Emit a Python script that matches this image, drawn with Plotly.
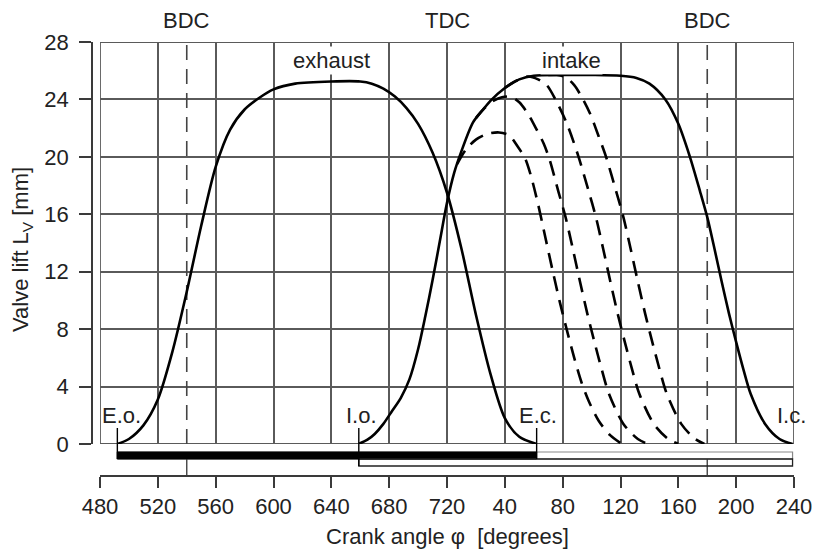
import plotly.graph_objects as go

# ---- data (crank angle in degrees, 720 + x for the second revolution) ----
exhaust_deg = [492, 500, 510, 520, 530, 540, 550, 560, 570, 580, 590, 600, 615, 640, 660,
               668, 676, 684, 692, 700, 710, 720, 730, 740, 750, 760, 770, 782]
exhaust_lift = [0, 0.35, 1.3, 3.1, 6.4, 10.6, 15.2, 19.3, 21.9, 23.3, 24.1, 24.7, 25.1, 25.25, 25.25,
                25.1, 24.75, 24.2, 23.4, 22.3, 20.3, 17.5, 13.6, 9.0, 4.9, 1.8, 0.5, 0]

intake_deg = [659, 665, 670, 676, 682, 688, 694, 700, 705, 710, 715, 720, 725, 730, 738, 745, 750,
              760, 770, 780, 800, 820, 840, 851, 860, 871, 880, 888, 895, 900, 905, 910, 915,
              920, 925, 930, 940, 950, 959]
intake_lift = [0, 0.3, 0.7, 1.4, 2.3, 3.2, 4.5, 6.6, 8.9, 11.4, 14.1, 16.8, 18.9, 20.4, 22.4, 23.3, 23.9,
               24.8, 25.4, 25.65, 25.7, 25.7, 25.65, 25.5, 25.1, 24.0, 22.3, 20.0, 17.6, 15.8, 13.6, 11.3, 9.1,
               7.1, 5.2, 3.5, 1.4, 0.35, 0]

# early intake closing variants (dashed)
var1_deg = [727, 733, 740, 748, 756, 763, 769, 774, 778, 783, 788, 793, 798, 803, 808, 813, 818, 825, 833, 841]
var1_lift = [19.5, 20.5, 21.2, 21.6, 21.7, 21.5, 20.7, 19.9, 18.7, 16.7, 14.4, 12.1, 9.9, 7.9, 6.0, 4.3, 3.0, 1.6, 0.6, 0]

var2_deg = [740, 746, 752, 758, 764, 770, 776, 782, 787, 791, 797, 802, 807, 812, 817, 822, 827, 832, 842, 852, 859]
var2_lift = [22.7, 23.4, 23.9, 24.15, 24.2, 23.8, 23.0, 21.9, 20.9, 19.8, 17.6, 15.8, 13.6, 11.3, 9.1, 7.1, 5.2, 3.5, 1.4, 0.35, 0]

var3_deg = [760, 768, 776, 783, 789, 795, 803, 811, 818, 823, 828, 833, 838, 843, 848, 853, 863, 873, 880]
var3_lift = [24.8, 25.3, 25.6, 25.4, 25.0, 24.0, 22.3, 20.0, 17.6, 15.8, 13.6, 11.3, 9.1, 7.1, 5.2, 3.5, 1.4, 0.35, 0]

var4_deg = [790, 796, 802, 808, 813, 819, 825, 830, 837, 842, 847, 852, 857, 862, 867, 872, 882, 891, 898]
var4_lift = [25.7, 25.7, 25.55, 25.0, 24.2, 23.0, 21.4, 20.0, 17.6, 15.8, 13.6, 11.3, 9.1, 7.1, 5.2, 3.5, 1.4, 0.4, 0]

x_ticks = [480, 520, 560, 600, 640, 680, 720, 760, 800, 840, 880, 920, 960]
x_tick_labels = ["480", "520", "560", "600", "640", "680", "720", "40", "80", "120", "160", "200", "240"]
y_ticks = [0, 4, 8, 12, 16, 20, 24, 28]

# valve events
EO, IO, EC, IC = 492, 659, 782, 959
BDC1, TDC, BDC2 = 540, 720, 900

# ---- geometry ----
W, H = 814, 550
ML, MR, MT, MB = 92, 20, 42, 75
PW, PH = W - ML - MR, H - MT - MB
X0 = 8 / PW                  # plot box starts a little right of the lift axis
STRIP = 31                   # px of timing strip below the zero line
YS = STRIP / PH
PX_PER_MM = PH * (1 - YS) / 28.0
strip_lo = -STRIP / PX_PER_MM


def strip(px):
    """pixel depth below zero line -> strip axis units"""
    return -px / PX_PER_MM


FONT = "Liberation Sans, Arial, sans-serif"
TXT = "#222222"
GRID = "#5a5a5a"
AX = "#3a3a3a"
FS = 22

fig = go.Figure()

solid = dict(color="black", width=2.6, shape="spline", smoothing=0.8)
dashed = dict(color="black", width=2.6, shape="spline", smoothing=0.8, dash="15px,9px")

fig.add_trace(go.Scatter(x=exhaust_deg, y=exhaust_lift, mode="lines", line=solid, xaxis="x", yaxis="y"))
fig.add_trace(go.Scatter(x=intake_deg, y=intake_lift, mode="lines", line=solid, xaxis="x", yaxis="y"))
for xs, ys in [(var1_deg, var1_lift), (var2_deg, var2_lift), (var3_deg, var3_lift), (var4_deg, var4_lift)]:
    fig.add_trace(go.Scatter(x=xs, y=ys, mode="lines", line=dashed, xaxis="x", yaxis="y"))
# empty trace so the bottom (crank angle) axis gets its own subplot
fig.add_trace(go.Scatter(x=[480, 960], y=[strip_lo, strip_lo], mode="lines",
                         line=dict(width=0, color="rgba(0,0,0,0)"), hoverinfo="skip",
                         xaxis="x2", yaxis="y2"))

shapes = []
# plot frame
shapes.append(dict(type="rect", xref="x", yref="y", x0=480, x1=960, y0=0, y1=28,
                   line=dict(color=GRID, width=1.8), layer="between"))
# BDC markers
for b in (BDC1, BDC2):
    shapes.append(dict(type="line", xref="x", yref="y", x0=b, x1=b, y0=0, y1=28,
                       line=dict(color="#444444", width=1.6, dash="15px,9px"), layer="between"))
    shapes.append(dict(type="line", xref="x2", yref="y2", x0=b, x1=b, y0=strip(8), y1=strip_lo,
                       line=dict(color="#444444", width=1.4)))

# timing strip: exhaust open (black) and intake open (outlined)
shapes.append(dict(type="rect", xref="x2", yref="y2", x0=EO, x1=IC, y0=strip(8), y1=strip(15),
                   line=dict(color="#888888", width=1.2), fillcolor="white"))
shapes.append(dict(type="rect", xref="x2", yref="y2", x0=EO, x1=EC, y0=strip(8), y1=strip(15),
                   line=dict(color="black", width=1), fillcolor="black"))
shapes.append(dict(type="rect", xref="x2", yref="y2", x0=IO, x1=IC, y0=strip(15), y1=strip(22),
                   line=dict(color="#222222", width=1.3), fillcolor="rgba(0,0,0,0)"))
# event ticks
for ev, depth in ((EO, 15), (IO, 22), (EC, 15)):
    shapes.append(dict(type="line", xref="x", yref="y", x0=ev, x1=ev, y0=0, y1=16 / PX_PER_MM,
                       line=dict(color="black", width=1.4)))
    shapes.append(dict(type="line", xref="x2", yref="y2", x0=ev, x1=ev, y0=0, y1=strip(depth),
                       line=dict(color="black", width=1.4)))

annotations = []
for xv, label in ((BDC1, "BDC"), (TDC, "TDC"), (BDC2, "BDC")):
    annotations.append(dict(x=xv, xref="x", y=(H - MB - 20) / PH, yref="paper", text=label,
                            showarrow=False, font=dict(family=FONT, size=FS, color=TXT),
                            xanchor="center", yanchor="middle"))
for xv, label in ((640, "exhaust"), (806, "intake")):
    annotations.append(dict(x=xv, xref="x", y=(444 - 60) / PX_PER_MM, yref="y", text=label,
                            showarrow=False, font=dict(family=FONT, size=FS, color=TXT),
                            bgcolor="white", xanchor="center", yanchor="middle", borderpad=1))
for xv, label in ((495, "E.o."), (661, "I.o."), (783, "E.c."), (958, "I.c.")):
    annotations.append(dict(x=xv, xref="x", y=(444 - 415) / PX_PER_MM, yref="y", text=label,
                            showarrow=False, font=dict(family=FONT, size=FS, color=TXT),
                            xanchor="center", yanchor="middle"))
annotations.append(dict(x=(22 - ML) / PW, xref="paper", y=(H - MB - 250) / PH, yref="paper",
                        text="Valve lift L<sub>V</sub> [mm]", textangle=-90, showarrow=False,
                        font=dict(family=FONT, size=FS, color=TXT), xanchor="center", yanchor="middle"))
annotations.append(dict(x=(X0 + 1) / 2, xref="paper", y=-(536 - (H - MB)) / PH, yref="paper",
                        text="Crank angle \u03c6  [degrees]", showarrow=False,
                        font=dict(family=FONT, size=FS, color=TXT), xanchor="center", yanchor="middle"))

fig.update_layout(
    width=W, height=H,
    margin=dict(l=ML, r=MR, t=MT, b=MB, pad=0, autoexpand=False),
    paper_bgcolor="white", plot_bgcolor="white",
    showlegend=False,
    xaxis=dict(domain=[X0, 1], range=[480, 960], anchor="y", showgrid=True, gridcolor=GRID, gridwidth=1.6,
               tickmode="array", tickvals=x_ticks, ticks="", showticklabels=False,
               showline=False, zeroline=False, automargin=False),
    xaxis2=dict(domain=[X0, 1], range=[480, 960], anchor="y2",
                tickmode="array", tickvals=x_ticks, ticktext=x_tick_labels,
                ticks="outside", ticklen=11, tickwidth=1.5, tickcolor=AX,
                showline=True, linecolor=AX, linewidth=1.5, showgrid=False, zeroline=False,
                tickfont=dict(family=FONT, size=FS, color=TXT), ticklabelstandoff=0, automargin=False),
    yaxis=dict(domain=[YS, 1], range=[0, 28], anchor="free", position=0,
               tickmode="array", tickvals=y_ticks, ticks="outside", ticklen=12, tickwidth=1.5, tickcolor=AX,
               showline=True, linecolor=AX, linewidth=1.5, showgrid=True, gridcolor=GRID, gridwidth=1.6,
               zeroline=False, tickfont=dict(family=FONT, size=FS, color=TXT), ticklabelstandoff=6,
               automargin=False),
    yaxis2=dict(domain=[0, YS], range=[strip_lo, 0], anchor="x2", showgrid=False, zeroline=False,
                showline=False, showticklabels=False, ticks="", automargin=False),
    shapes=shapes,
    annotations=annotations,
)

fig.write_html("out.html")
